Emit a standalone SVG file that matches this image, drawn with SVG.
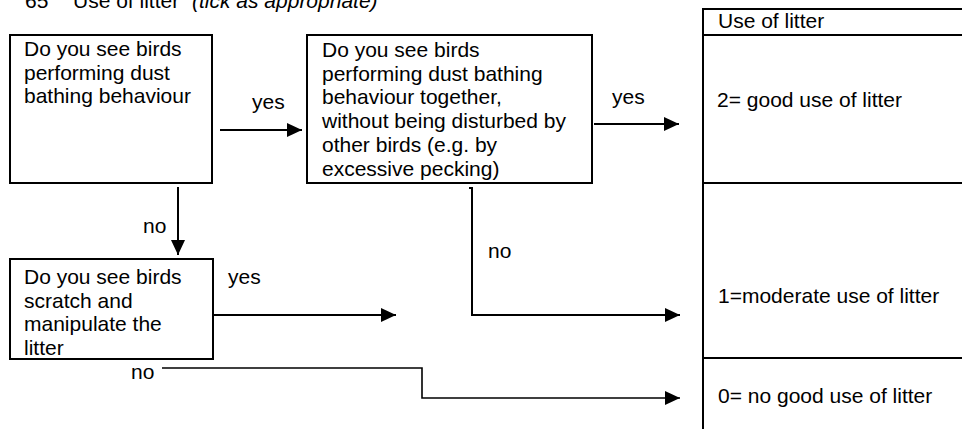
<svg xmlns="http://www.w3.org/2000/svg" width="962" height="429" viewBox="0 0 962 429">
<defs>
<style>
text{font-family:"Liberation Sans",Arial,sans-serif;font-size:21px;fill:#000}
.box{fill:#fff;stroke:#000;stroke-width:2}
.ln{fill:none;stroke:#000;stroke-width:2}
.thin{fill:none;stroke:#000;stroke-width:1.6}
</style>
<marker id="ah" viewBox="0 0 15 14" refX="15" refY="7" markerWidth="15" markerHeight="14" markerUnits="userSpaceOnUse" orient="auto">
<path d="M0,0 L15,7 L0,14 Z" fill="#000"/>
</marker>
</defs>
<rect width="962" height="429" fill="#fff"/>
<g id="title">
<text x="25" y="8">65</text>
<text x="73" y="8">Use of litter</text>
<text x="192" y="8" font-style="italic" font-size="19">(tick as appropriate)</text>
</g>
<g id="q1">
<rect class="box" x="10" y="35" width="202" height="148"/>
<text x="24" y="56"><tspan x="24">Do you see birds</tspan><tspan x="24" dy="23.5">performing dust</tspan><tspan x="24" dy="23.5">bathing behaviour</tspan></text>
</g>
<g id="q2">
<rect class="box" x="307" y="35" width="285" height="148"/>
<text x="322" y="57"><tspan x="322">Do you see birds</tspan><tspan x="322" dy="23.7">performing dust bathing</tspan><tspan x="322" dy="23.7">behaviour together,</tspan><tspan x="322" dy="23.7">without being disturbed by</tspan><tspan x="322" dy="23.7">other birds (e.g. by</tspan><tspan x="322" dy="23.7">excessive pecking)</tspan></text>
</g>
<g id="q3">
<rect class="box" x="10" y="259" width="203" height="100"/>
<text x="24" y="284"><tspan x="24">Do you see birds</tspan><tspan x="24" dy="23.7">scratch and</tspan><tspan x="24" dy="23.7">manipulate the</tspan><tspan x="24" dy="23.7">litter</tspan></text>
</g>
<g id="scores">
<rect class="box" x="703" y="9" width="270" height="430"/>
<line class="ln" x1="703" y1="35" x2="962" y2="35"/>
<line class="ln" x1="703" y1="183" x2="962" y2="183"/>
<line class="ln" x1="703" y1="358" x2="962" y2="358"/>
<text x="718" y="28">Use of litter</text>
<text x="717" y="107">2= good use of litter</text>
<text x="718" y="303">1=moderate use of litter</text>
<text x="718" y="403">0= no good use of litter</text>
</g>
<g id="connectors">
<line class="ln" x1="220" y1="130" x2="302" y2="130" marker-end="url(#ah)"/>
<text x="252" y="109">yes</text>
<line class="ln" x1="594" y1="124" x2="679" y2="124" marker-end="url(#ah)"/>
<text x="612" y="104">yes</text>
<line class="ln" x1="178" y1="187" x2="178" y2="255" marker-end="url(#ah)"/>
<text x="143" y="233">no</text>
<polyline class="ln" points="469,188 472,188 472,315 680,315" marker-end="url(#ah)"/>
<text x="488" y="258">no</text>
<line class="ln" x1="213" y1="315" x2="396" y2="315" marker-end="url(#ah)"/>
<text x="228" y="284">yes</text>
<polyline class="thin" points="162,368 422,368 422,398 680,398" marker-end="url(#ah)"/>
<text x="131" y="379">no</text>
</g>
</svg>
